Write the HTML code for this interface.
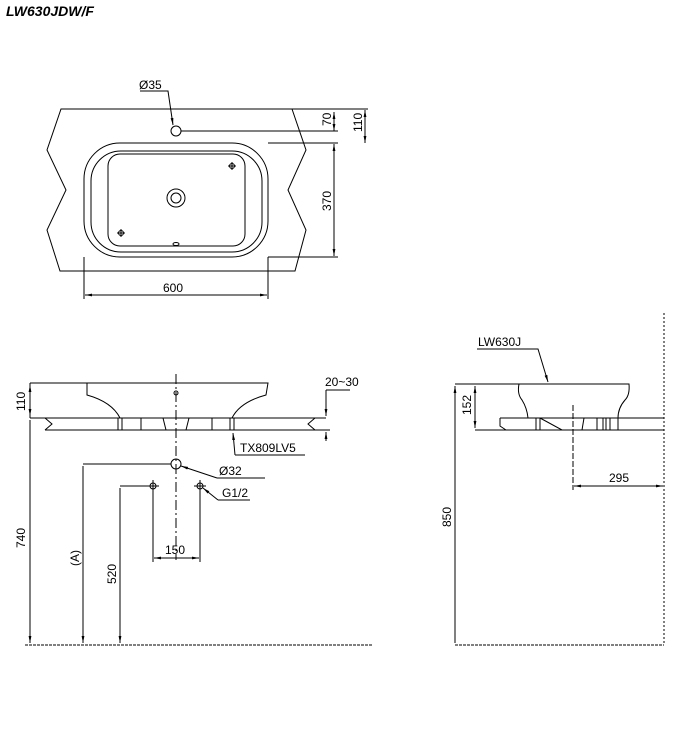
<!DOCTYPE html>
<html><head><meta charset="utf-8"><style>
html,body{margin:0;padding:0;background:#fff;width:680px;height:751px;overflow:hidden}
svg{display:block}
text{font-family:"Liberation Sans",Arial,sans-serif;font-size:12px;fill:#000}
</style></head><body>
<svg width="680" height="751" viewBox="0 0 680 751" xmlns="http://www.w3.org/2000/svg">
<defs>
<marker id="a" viewBox="0 0 10 10" refX="10" refY="5" markerWidth="7" markerHeight="7" orient="auto-start-reverse"><path d="M0,3 L10,5 L0,7 z" fill="#000"/></marker>
</defs>
<text x="6" y="16" style="font-size:14px;font-weight:bold;font-style:italic">LW630JDW/F</text>
<g fill="none" stroke="#000" stroke-width="1">
<!-- top view -->
<path d="M61,109 L292,109 L306,150 L288,190 L306,230 L295,271 L60,271 L47,230 L66,190 L47,150 Z"/>
<rect x="84" y="143" width="184" height="114" rx="36" fill="#fff"/>
<rect x="91" y="151" width="171" height="101" rx="30"/>
<rect x="108" y="154" width="137" height="92" rx="12"/>
<circle cx="176" cy="198" r="9"/><circle cx="176" cy="198" r="5"/>
<circle cx="176" cy="131" r="5"/>
<ellipse cx="176" cy="244" rx="3" ry="1.5"/>
<circle cx="232" cy="166" r="2.5"/><path d="M228,166h8M232,162v8"/>
<circle cx="121" cy="233" r="2.5"/><path d="M117,233h8M121,229v8"/>
<path d="M140,91 L168,91 L173,125" marker-end="url(#a)"/>
<path d="M181,131 H338 M292,109 H368 M268,143 H338 M268,257 H338"/>
<path d="M334,112 V131" marker-start="url(#a)" marker-end="url(#a)"/>
<path d="M365,110 V143" marker-start="url(#a)" marker-end="url(#a)"/>
<path d="M334,144 V256" marker-start="url(#a)" marker-end="url(#a)"/>
<path d="M84,257 V299 M268,257 V299"/>
<path d="M85,295 H267" marker-start="url(#a)" marker-end="url(#a)"/>
<!-- front view -->
<path d="M85,383 H268 L266,395 Q240,402 232,418 M87,383 L87,395 Q112,402 120,418"/>
<path d="M30,418 H326 M45,430 H315 M45,418 L52,424 L45,430 M315,418 L308,424 L315,430"/>
<path d="M163,418 L166,430 H186 L189,418" />
<path d="M141,418 V430 M212,418 V430"/>
<path d="M118,418 V430 M122,418 V430 M230,418 V430 M234,418 V430"/>
<ellipse cx="176" cy="393" rx="2" ry="2"/>
<path d="M176,374 V560" stroke-dasharray="10,3,2,3"/>
<path d="M30,383 H85 M30,418 V383"/>
<path d="M30,385 V416" marker-start="url(#a)" marker-end="url(#a)"/>
<path d="M30,420 V643" marker-end="url(#a)"/>
<path d="M326,390 H350 M326,390 V416" marker-end="url(#a)"/>
<path d="M326,441 V432" marker-end="url(#a)"/>
<path d="M315,430 H330"/>
<circle cx="176" cy="464" r="5"/>
<path d="M83,464 H171 M83,466 V643" />
<path d="M83,466 V643" marker-end="url(#a)"/>
<path d="M120,486 H148 M120,488 V643" marker-end="url(#a)"/>
<circle cx="153" cy="486" r="3"/><path d="M147,486h12M153,480v12"/>
<circle cx="200" cy="486" r="3"/><path d="M194,486h12M200,480v12"/>
<path d="M153,490 V562 M200,490 V562"/>
<path d="M154,558 H199" marker-start="url(#a)" marker-end="url(#a)"/>
<path d="M235,455 L233,433" marker-end="url(#a)"/>
<path d="M235,455 H305"/>
<path d="M217,478 H265 M217,478 L181,466" marker-end="url(#a)"/>
<path d="M218,500 H250 M218,500 L203,488" marker-end="url(#a)"/>
<path d="M25,645 H372" stroke-dasharray="3,1"/>
<!-- side view -->
<path d="M664,313 V645" stroke-dasharray="2,2"/>
<path d="M455,645 H664" stroke-dasharray="3,1"/>
<path d="M517,384 H629 Q630,395 625,400 Q618,408 618,418 M519,384 Q517,394 522,400 Q527,408 528,418"/>
<path d="M500,418 H664 M506,430 H664 M500,418 V426 L506,430"/>
<path d="M540,418 L562,430 H582 L584,418 M610,418 V430 M618,418 V430 M597,418 V430"/>
<path d="M536,418 V430 M540,418 V430 M603,418 V430 M606,418 V430"/>
<path d="M573,405 V490" stroke-dasharray="6,2"/>
<path d="M455,384 H517 M475,430 H540"/>
<path d="M455,386 V643" marker-start="url(#a)"/>
<path d="M475,386 V428" marker-start="url(#a)" marker-end="url(#a)"/>
<path d="M574,486 H663" marker-start="url(#a)" marker-end="url(#a)"/>
<path d="M477,349 H538 L548,382" marker-end="url(#a)"/>
</g>
<text x="139" y="89">Ø35</text>
<text x="163" y="292">600</text>
<text transform="translate(331,126) rotate(-90)">70</text>
<text transform="translate(362,132) rotate(-90)">110</text>
<text transform="translate(331,211) rotate(-90)">370</text>
<text transform="translate(25,411) rotate(-90)">110</text>
<text x="325" y="386">20~30</text>
<text x="240" y="452">TX809LV5</text>
<text x="219" y="475">Ø32</text>
<text x="222" y="497">G1/2</text>
<text x="165" y="554">150</text>
<text transform="translate(25,548) rotate(-90)">740</text>
<text transform="translate(79,566) rotate(-90)">(A)</text>
<text transform="translate(116,584) rotate(-90)">520</text>
<text x="478" y="346">LW630J</text>
<text transform="translate(471,415) rotate(-90)">152</text>
<text transform="translate(451,527) rotate(-90)">850</text>
<text x="609" y="482">295</text>
</svg>
</body></html>
